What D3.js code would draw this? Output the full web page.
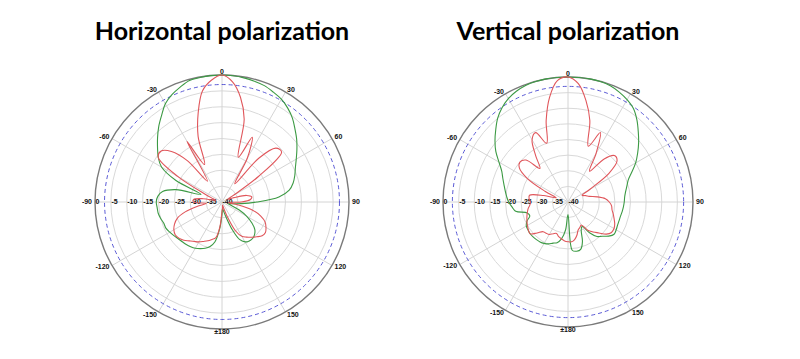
<!DOCTYPE html>
<html>
<head>
<meta charset="utf-8">
<script src="https://cdn.jsdelivr.net/npm/d3@7"></script>
<style>
body { margin: 0; background: #fff; }
</style>
</head>
<body>
<script>
// angle grid of the measured patterns, degrees (0 = top, clockwise)
var angles = d3.range(-180, 180, 5);

// horizontal polarization, dB
var hRed = [-37, -32, -28.5, -27.8, -27, -26.3, -25.5, -24.8, -24, -23, -22.3, -22,
  -22.5, -23.5, -25, -28, -32, -35, -31, -31, -34, -38, -37, -34,
  -24, -15.5, -15, -17.5, -23, -32, -18, -27, -18, -11, -4.5, -1.5,
  0, -2, -6.5, -13, -25, -17.5, -24, -33, -22, -16, -15.5, -26,
  -36, -38, -36, -32, -30.5, -31, -34, -38, -35, -30, -27, -25,
  -24, -23.3, -23.5, -24.5, -25.5, -26.5, -27.5, -30, -35, -38, -39, -38];
var hGreen = [-36, -31.5, -27.3, -25.5, -24.5, -23.8, -23.2, -22.8, -22.5, -22.3, -22, -21.5,
  -21, -20.5, -20.5, -20, -19.6, -19.5, -19.3, -19.7, -21, -25, -33, -24,
  -18, -15.5, -13.5, -11.3, -9, -6.8, -4.3, -2.7, -1.5, -0.4, -0.2, -0.05,
  0, -0.1, -0.3, -0.6, -1, -1.8, -2.6, -3.9, -5.5, -7.5, -9.3, -11.2,
  -13, -14.5, -15.6, -16.8, -18.5, -22, -29, -34, -37, -38, -37, -34,
  -31, -28.5, -26.5, -25.5, -25, -25, -25.5, -27, -31, -35, -37, -38];

// vertical polarization, dB
var vRed = [-27.3, -27.5, -28, -28.5, -29.3, -28.8, -28, -27.8, -27.6, -26, -24.2, -24.5,
  -25, -25.5, -26, -26.5, -27, -27.7, -28, -27.5, -27.5, -32, -36, -32,
  -25, -21, -20, -21, -26, -22, -17, -15.5, -20, -13, -6, -1,
  0, -2, -7, -13, -21, -15.5, -22, -28, -22, -19, -19.5, -24,
  -32, -35, -34, -33, -30.5, -28, -26.8, -26, -25.7, -25, -24.3, -23.5,
  -23, -23, -24, -26, -27.5, -29, -31.5, -31, -30.5, -29, -27.8, -27.2];
var vGreen = [-36, -31, -28, -26.5, -26, -25.2, -24.7, -24.4, -24.3, -24.2, -24.2, -24.4,
  -24.6, -25.5, -27, -26.5, -23, -22, -21, -20.3, -19.6, -18.8, -17.8, -16.6,
  -14.5, -11.8, -9.5, -7.3, -5, -3.2, -1.8, -0.9, -0.3, -0.1, 0, 0,
  0, 0, 0, -0.1, -0.4, -1.2, -2.2, -3.5, -5.7, -8.2, -10.5, -12.8,
  -15, -17.5, -19.5, -20.5, -21.3, -21.8, -22, -22.2, -22.4, -22.6, -22.6, -22.5,
  -22.2, -22, -23, -24.5, -25.6, -28, -31, -30, -26.5, -24.3, -24, -24.5];

// axes
var ringTicks = [0, -5, -10, -15, -20, -25, -30, -35, -40];
var spokeAngles = [0, 30, 60, 90, 120, 150, 180, -150, -120, -90, -60, -30];
var spokeLabels = ["0", "30", "60", "90", "120", "150", "\u00b1180", "-150", "-120", "-90", "-60", "-30"];
var refLevel = -3;

var svg = d3.select("body").append("svg")
  .attr("width", 800).attr("height", 359)
  .style("font-family", "'Liberation Sans', Arial, sans-serif");

function toRad(d) { return d * Math.PI / 180; }

function drawPolar(cx, cy, R, title, red, green) {
  var g = svg.append("g").attr("transform", "translate(" + cx + "," + cy + ")");
  var r = d3.scaleLinear().domain([-40, 0]).range([0, R]);

  // rings every 5 dB
  g.selectAll("circle.ring").data(ringTicks.slice(1, -1)).enter().append("circle")
    .attr("r", function(d) { return r(d); })
    .attr("fill", "none").attr("stroke", "#d9d9d9").attr("stroke-width", 1);

  // spokes every 30 deg
  g.selectAll("line.spoke").data(spokeAngles).enter().append("line")
    .attr("x1", 0).attr("y1", 0)
    .attr("x2", function(d) { return R * Math.sin(toRad(d)); })
    .attr("y2", function(d) { return -R * Math.cos(toRad(d)); })
    .attr("stroke", "#d4d4d4").attr("stroke-width", 1);

  // -3 dB reference
  g.append("circle").attr("r", r(refLevel))
    .attr("fill", "none").attr("stroke", "#5b5bd6")
    .attr("stroke-width", 1).attr("stroke-dasharray", "4,3");

  // outer frame
  g.append("circle").attr("r", R)
    .attr("fill", "none").attr("stroke", "#7a7a7a").attr("stroke-width", 1.4);

  // dB labels along the -90 axis
  g.selectAll("text.db").data(ringTicks).enter().append("text")
    .attr("x", function(d) { return -r(d) + 0.5; })
    .attr("y", 0)
    .attr("dy", "0.35em")
    .attr("font-size", 7)
    .attr("font-weight", "bold")
    .attr("fill", "#111")
    .text(function(d) { return d; });

  // angle labels
  g.selectAll("text.ang").data(spokeAngles).enter().append("text")
    .attr("x", function(d) { return (R + 3) * Math.sin(toRad(d)); })
    .attr("y", function(d) { return -(R + 3) * Math.cos(toRad(d)); })
    .attr("dy", "0.35em")
    .attr("text-anchor", function(d) {
      if (d === 0 || d === 180) return "middle";
      return d > 0 ? "start" : "end";
    })
    .attr("font-size", 7)
    .attr("font-weight", "bold")
    .attr("fill", "#111")
    .text(function(d, i) { return spokeLabels[i]; });

  var line = d3.lineRadial()
    .angle(function(d) { return toRad(d[0]); })
    .radius(function(d) { return r(d[1]); })
    .curve(d3.curveCatmullRomClosed.alpha(0.5));

  g.append("path").datum(d3.zip(angles, green))
    .attr("d", line).attr("fill", "none")
    .attr("stroke", "#3c9a44").attr("stroke-width", 1.1);
  g.append("path").datum(d3.zip(angles, red))
    .attr("d", line).attr("fill", "none")
    .attr("stroke", "#e0565b").attr("stroke-width", 1.1);

  svg.append("text")
    .attr("x", cx).attr("y", 40)
    .attr("text-anchor", "middle")
    .style("font-family", "Lato, 'Open Sans', sans-serif")
    .attr("font-size", 25)
    .attr("font-weight", "bold")
    .attr("fill", "#000")
    .text(title);
}

drawPolar(222, 202, 127, "Horizontal polarization", hRed, hGreen);
drawPolar(568, 202, 125, "Vertical polarization", vRed, vGreen);
</script>
</body>
</html>
